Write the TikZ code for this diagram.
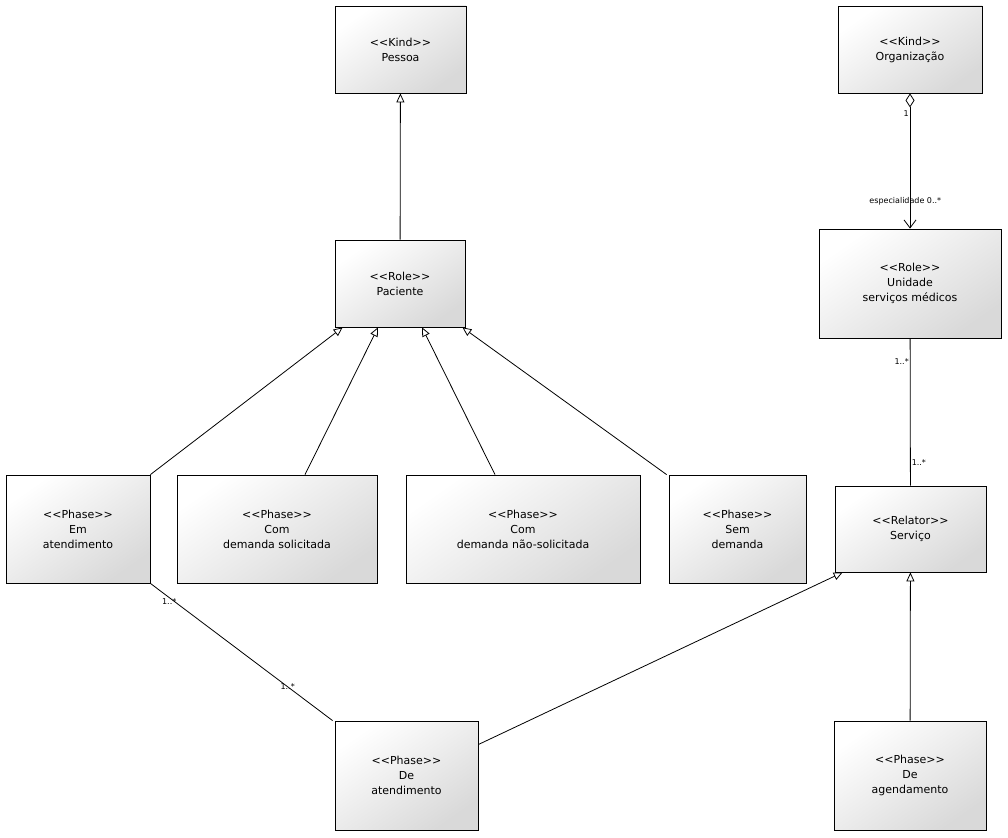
\documentclass[tikz,border=0pt]{standalone}
\usepackage{fontspec}
\setmainfont{DejaVu Sans}
\usetikzlibrary{arrows.meta, calc}

\tikzset{
  cls/.style={draw, thick, align=center, inner sep=0pt, shading=axis,
    top color=white, bottom color=gray!30, shading angle=35,
    font=\fontsize{11}{15}\selectfont},
  gen/.style={-{Triangle[open, length=9pt, width=8pt]}},
  mult/.style={font=\fontsize{8}{10}\selectfont, inner sep=1pt},
}

\begin{document}
\begin{tikzpicture}[x=1pt, y=-1pt]
    \useasboundingbox (0,0) rectangle (1008,837);

    \node[cls, minimum width=131pt, minimum height=87pt] (pessoa) at (400.5, 49.5) {<{}<Kind>{}>\\Pessoa};
    \node[cls, minimum width=144pt, minimum height=87pt] (org) at (910, 49.5) {<{}<Kind>{}>\\Organização};
    \node[cls, minimum width=130pt, minimum height=87pt] (pac) at (400, 283.5) {<{}<Role>{}>\\Paciente};
    \node[cls, minimum width=182pt, minimum height=109pt] (unid) at (910, 283.5) {<{}<Role>{}>\\Unidade\\serviços médicos};

    \node[cls, minimum width=144pt, minimum height=108pt] (ematend) at (78, 529) {<{}<Phase>{}>\\Em\\atendimento};
    \node[cls, minimum width=200pt, minimum height=108pt] (comsol) at (277, 529) {<{}<Phase>{}>\\Com\\demanda solicitada};
    \node[cls, minimum width=234pt, minimum height=108pt] (comnsol) at (523, 529) {<{}<Phase>{}>\\Com\\demanda não-solicitada};
    \node[cls, minimum width=137pt, minimum height=108pt] (sem) at (737.5, 529) {<{}<Phase>{}>\\Sem\\demanda};
    \node[cls, minimum width=151pt, minimum height=86pt] (serv) at (910.5, 529) {<{}<Relator>{}>\\Serviço};

    \node[cls, minimum width=143pt, minimum height=109pt] (deatend) at (406.5, 775.5) {<{}<Phase>{}>\\De\\atendimento};
    \node[cls, minimum width=152pt, minimum height=109pt] (deagend) at (910, 775.5) {<{}<Phase>{}>\\De\\agendamento};

    % generalizations
    \draw[thick, gen] (pac) -- (pessoa);
    \draw[thick, gen] (ematend.north east) -- ($(pac.south west)+(8,0)$);
    \draw[thick, gen] ($(comsol.north)+(28,0)$) -- ($(pac.south)+(-22,0)$);
    \draw[thick, gen] ($(comnsol.north)+(-28,0)$) -- ($(pac.south)+(22,0)$);
    \draw[thick, gen] ($(sem.north west)+(-2,0)$) -- ($(pac.south east)+(-3,0)$);
    \draw[thick, gen] ($(deatend.east)+(0,-31)$) -- ($(serv.south west)+(8,0)$);
    \draw[thick, gen] (deagend) -- (serv);

    % associations
    \draw[thick, {Diamond[open, length=14pt, width=9pt]}-{Straight Barb[length=8pt, width=12pt]}] (org) -- (unid)
        node[mult, pos=0.15, left] {1}
        node[mult, pos=0.8, right, xshift=-42pt] {especialidade 0..*};
    \draw[thick] (unid) -- (serv)
        node[mult, pos=0.16, left] {1..*}
        node[mult, pos=0.84, right] {1..*};
    \draw[thick] (ematend.south east) -- ($(deatend.north west)+(-2,0)$)
        node[mult, pos=0.15, left, yshift=2pt] {1..*}
        node[mult, pos=0.8, above left, yshift=2pt] {1..*};
\end{tikzpicture}
\end{document}
